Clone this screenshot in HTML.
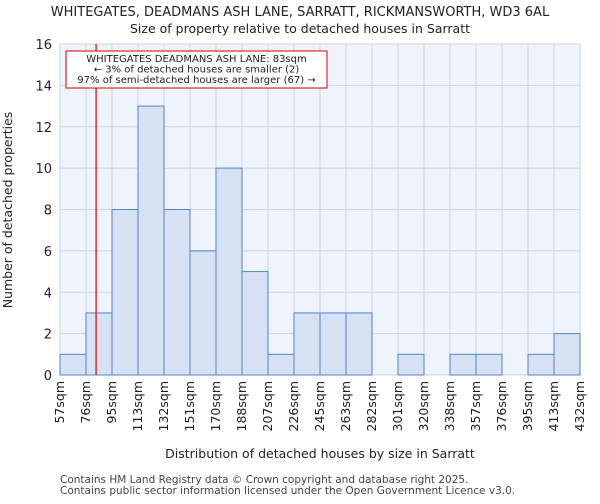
<!DOCTYPE html>
<html><head><meta charset="utf-8"><style>
body{margin:0;background:#fff;font-family:"DejaVu Sans","Liberation Sans",sans-serif}
svg text{font-family:"DejaVu Sans","Liberation Sans",sans-serif;fill:#222}
</style></head><body>
<svg id="chart" width="600" height="500">
<text x="300" y="16" text-anchor="middle" font-size="13">WHITEGATES, DEADMANS ASH LANE, SARRATT, RICKMANSWORTH, WD3 6AL</text>
<text x="300" y="33" text-anchor="middle" font-size="12.5">Size of property relative to detached houses in Sarratt</text>
<rect x="60" y="44" width="520" height="331" fill="#eef3fc"/>
<g id="grid"></g><g id="bars"></g><g id="axes"></g>
<text x="320" y="458" text-anchor="middle" font-size="12.5">Distribution of detached houses by size in Sarratt</text>
<text transform="translate(12,210) rotate(-90)" text-anchor="middle" font-size="12.5">Number of detached properties</text>
<text x="60" y="483" font-size="10.5" style="fill:#444">Contains HM Land Registry data © Crown copyright and database right 2025.</text>
<text x="60" y="494" font-size="10.5" style="fill:#444">Contains public sector information licensed under the Open Government Licence v3.0.</text>
</svg>
<script>
const categories=["57sqm","76sqm","95sqm","113sqm","132sqm","151sqm","170sqm","188sqm","207sqm","226sqm","245sqm","263sqm","282sqm","301sqm","320sqm","338sqm","357sqm","376sqm","395sqm","413sqm","432sqm"];
const counts=[1,3,8,13,8,6,10,5,1,3,3,3,0,1,0,1,1,0,1,2];
const yTicks=[0,2,4,6,8,10,12,14,16];
const markerValue=83;
const binEdges=[57,76,95,113,132,151,170,188,207,226,245,263,282,301,320,338,357,376,395,413,432];
const NS="http://www.w3.org/2000/svg";
const X0=60,X1=580,Y0=375,Y1=44,yMax=16;
const bw=(X1-X0)/counts.length;
const xs=i=>X0+i*bw;
const ys=v=>Y0-(v/yMax)*(Y0-Y1);
function mk(t,a,p){const e=document.createElementNS(NS,t);for(const k in a)e.setAttribute(k,a[k]);p.appendChild(e);return e;}
const grid=document.getElementById('grid'),bars=document.getElementById('bars'),axes=document.getElementById('axes');
for(let i=0;i<=counts.length;i++){const l=mk('line',{x1:xs(i),x2:xs(i),y1:Y1,y2:Y0,stroke:'#cfd3da','stroke-width':1},grid);

}
yTicks.forEach(v=>{const l=mk('line',{x1:X0,x2:X1,y1:ys(v),y2:ys(v),stroke:'#cfd3da','stroke-width':1},grid);


const t=mk('text',{x:X0-8,y:ys(v)+5,'text-anchor':'end','font-size':13},axes);t.textContent=v;

});
counts.forEach((c,i)=>{if(c<=0)return;const r=mk('rect',{x:xs(i),y:ys(c),width:bw,height:Y0-ys(c),fill:'#d6e1f3',stroke:'#4f86c6','stroke-width':1},bars);

});
categories.forEach((c,i)=>{const x=xs(i)+4;const t=mk('text',{transform:`translate(${x},381) rotate(-90)`,'text-anchor':'end','font-size':12.5},axes);t.textContent=c;

});
let bi=0;while(bi<binEdges.length-2&&markerValue>binEdges[bi+1])bi++;
const mx=xs(bi)+bw*(markerValue-binEdges[bi])/(binEdges[bi+1]-binEdges[bi])+0.5;
const ml=mk('line',{x1:mx,x2:mx,y1:Y1,y2:Y0,stroke:'#e00000','stroke-width':1.2},axes);


const box=mk('rect',{x:66,y:51,width:261,height:37,fill:'#fff',stroke:'#cc0000','stroke-width':1},axes);


["WHITEGATES DEADMANS ASH LANE: 83sqm","← 3% of detached houses are smaller (2)","97% of semi-detached houses are larger (67) →"].forEach((s,i)=>{
const t=mk('text',{x:196.5,y:62+i*10.5,'text-anchor':'middle','font-size':10},axes);t.textContent=s;

});
</script>
</body></html>
